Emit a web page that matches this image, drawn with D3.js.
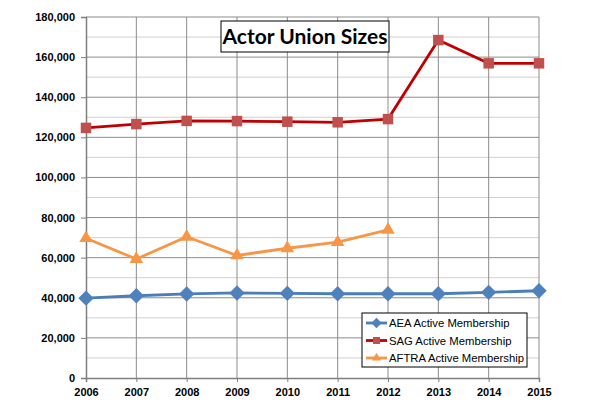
<!DOCTYPE html>
<html>
<head>
<meta charset="utf-8">
<script src="https://cdn.jsdelivr.net/npm/d3@7"></script>
<style>
  body { margin: 0; background: #fff; }
  .tick text { font-family: "Liberation Sans", Arial, sans-serif; font-weight: bold; font-size: 11px; fill: #000; }
</style>
</head>
<body>
<div class="chart"></div>
<script>
// === Data ===
const years = [2006, 2007, 2008, 2009, 2010, 2011, 2012, 2013, 2014, 2015];
const aea   = [39800, 41000, 41900, 42400, 42200, 42000, 42000, 42000, 42700, 43500];
const sag   = [124700, 126600, 128200, 128100, 127800, 127500, 129100, 168500, 156900, 156900];
const aftra = [69700, 59300, 70400, 61100, 64700, 67700, 73900];
const yTicks = [0, 20000, 40000, 60000, 80000, 100000, 120000, 140000, 160000, 180000];

const series = [
  {name: "AEA Active Membership",   values: aea,   line: "#4a7ebb", fill: "#4f81bd", symbol: d3.symbolDiamond2, size: 150},
  {name: "SAG Active Membership",   values: sag,   line: "#c00000", fill: "#c0504d", symbol: d3.symbolSquare2,  size: 140},
  {name: "AFTRA Active Membership", values: aftra, line: "#f79646", fill: "#f79646", symbol: d3.symbolTriangle2, size: 130}
];

// === Margin Convention ===
const margin = {top: 17, right: 77, bottom: 32, left: 86};
const width = 616 - margin.left - margin.right,
      height = 410 - margin.top - margin.bottom;

const svg = d3.select(".chart").append("svg")
    .attr("width", 616)
    .attr("height", 410)
    .append("g")
    .attr("transform", `translate(${margin.left},${margin.top})`);

// === Scales ===
const xScale = d3.scalePoint().domain(years).range([0, width]);
const yScale = d3.scaleLinear().domain([0, 180000]).range([height, 0]);

// === Grid ===
svg.append("g")
    .selectAll("line.minor")
    .data(d3.range(10000, 180000, 20000))
    .join("line")
    .attr("x1", 0).attr("x2", width)
    .attr("y1", d => yScale(d)).attr("y2", d => yScale(d))
    .attr("stroke", "#d0d0d0").attr("stroke-width", 1);

svg.append("g")
    .selectAll("line.major")
    .data(yTicks.slice(1))
    .join("line")
    .attr("x1", 0).attr("x2", width)
    .attr("y1", d => yScale(d)).attr("y2", d => yScale(d))
    .attr("stroke", "#8c8c8c").attr("stroke-width", 1);

svg.append("g")
    .selectAll("line.vgrid")
    .data(years.slice(1))
    .join("line")
    .attr("x1", d => xScale(d)).attr("x2", d => xScale(d))
    .attr("y1", 0).attr("y2", height)
    .attr("stroke", "#8c8c8c").attr("stroke-width", 1);

// === Axes ===
const yAxis = d3.axisLeft(yScale).tickValues(yTicks).tickSize(5).tickPadding(6)
    .tickFormat(d3.format(","));
const xAxis = d3.axisBottom(xScale).tickSize(4).tickPadding(6).tickFormat(d3.format("d"));

const yAxisSVG = svg.append("g").attr("class", "axis y-axis").call(yAxis);
const xAxisSVG = svg.append("g").attr("class", "axis x-axis")
    .attr("transform", `translate(0,${height})`).call(xAxis);
[yAxisSVG, xAxisSVG].forEach(a => {
  a.select(".domain").attr("stroke", "#7f7f7f").attr("stroke-width", 1.5);
  a.selectAll(".tick line").attr("stroke", "#7f7f7f");
});

// === Lines & Markers ===
const line = d3.line()
    .x((d, i) => xScale(years[i]))
    .y(d => yScale(d));

series.forEach(s => {
  svg.append("path")
      .datum(s.values)
      .attr("fill", "none")
      .attr("stroke", s.line)
      .attr("stroke-width", 2.8)
      .attr("d", line);

  svg.append("g")
      .selectAll("path")
      .data(s.values)
      .join("path")
      .attr("transform", (d, i) => `translate(${xScale(years[i])},${yScale(d)})`)
      .attr("d", d3.symbol().type(s.symbol).size(s.size))
      .attr("fill", s.fill);
});

// === Title ===
const title = svg.append("g").attr("transform", `translate(135,4)`);
title.append("rect")
    .attr("width", 168).attr("height", 31)
    .attr("fill", "#fff").attr("stroke", "#000").attr("stroke-width", 1);
title.append("text")
    .attr("x", 84).attr("y", 23)
    .attr("text-anchor", "middle")
    .attr("font-family", "Lato, 'Open Sans', sans-serif")
    .attr("font-weight", "bold")
    .attr("font-size", 21)
    .text("Actor Union Sizes");

// === Legend ===
const legend = svg.append("g").attr("transform", `translate(276,296)`);
legend.append("rect")
    .attr("width", 165).attr("height", 54)
    .attr("fill", "#fff").attr("stroke", "#000").attr("stroke-width", 1);

series.forEach((s, i) => {
  const g = legend.append("g").attr("transform", `translate(4,${10 + i * 17.5})`);
  g.append("line").attr("x1", 0).attr("x2", 21).attr("stroke", s.line).attr("stroke-width", 2.8);
  g.append("path").attr("transform", "translate(10.5,0)")
      .attr("d", d3.symbol().type(s.symbol).size(s.size * 0.45))
      .attr("fill", s.fill);
  g.append("text")
      .attr("x", 23).attr("y", 4)
      .attr("font-family", "'Liberation Sans', Arial, sans-serif")
      .attr("font-size", 11.3)
      .text(s.name);
});
</script>
</body>
</html>
